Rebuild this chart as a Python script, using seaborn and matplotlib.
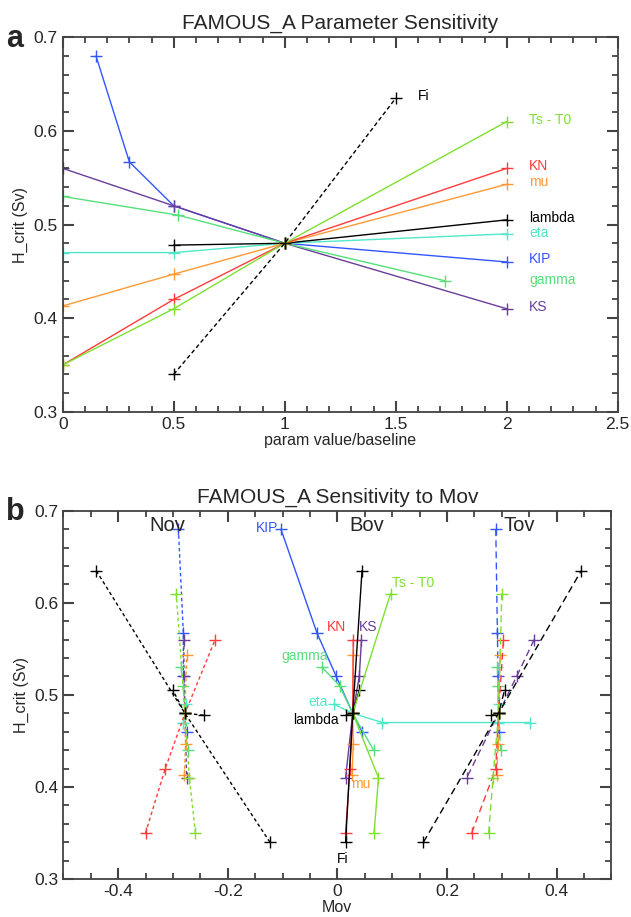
import numpy as np
import pandas as pd
import matplotlib
matplotlib.use('Agg')
import matplotlib.pyplot as plt
from matplotlib.ticker import MultipleLocator, FixedLocator
import seaborn as sns

# parameter names and line colours
params = ['KIP', 'KS', 'gamma', 'eta', 'lambda', 'mu', 'KN', 'Ts - T0', 'Fi']
colors = ['#3355ff', '#6a3d9a', '#55e07a', '#50e8c8', 'black', '#ff9933', '#ff3b3b', '#7fe030', 'black']

# param value / baseline
pval = {
    'KIP': [0.15, 0.3, 0.5, 1, 2],
    'KS': [0, 0.5, 1, 2],
    'gamma': [0, 0.52, 1, 1.72],
    'eta': [0, 0.5, 1, 2],
    'lambda': [0.5, 1, 2],
    'mu': [0, 0.5, 1, 2],
    'KN': [0, 0.5, 1, 2],
    'Ts - T0': [0, 0.5, 1, 2],
    'Fi': [0.5, 1, 1.5],
}

# H_crit (Sv)
hcrit = {
    'KIP': [0.68, 0.567, 0.52, 0.48, 0.46],
    'KS': [0.56, 0.52, 0.48, 0.41],
    'gamma': [0.53, 0.51, 0.48, 0.44],
    'eta': [0.47, 0.47, 0.48, 0.49],
    'lambda': [0.478, 0.48, 0.505],
    'mu': [0.413, 0.447, 0.48, 0.543],
    'KN': [0.35, 0.42, 0.48, 0.56],
    'Ts - T0': [0.35, 0.41, 0.48, 0.61],
    'Fi': [0.34, 0.48, 0.635],
}

# Mov components at each point
nov = {
    'KIP': [-0.290, -0.281, -0.281, -0.278, -0.275],
    'KS': [-0.280, -0.280, -0.278, -0.275],
    'gamma': [-0.285, -0.281, -0.278, -0.273],
    'eta': [-0.281, -0.281, -0.278, -0.277],
    'lambda': [-0.244, -0.278, -0.300],
    'mu': [-0.279, -0.277, -0.278, -0.275],
    'KN': [-0.350, -0.314, -0.278, -0.223],
    'Ts - T0': [-0.259, -0.270, -0.278, -0.294],
    'Fi': [-0.123, -0.278, -0.440],
}
bov = {
    'KIP': [-0.103, -0.037, -0.002, 0.028, 0.045],
    'KS': [0.044, 0.040, 0.028, 0.015],
    'gamma': [-0.028, 0.004, 0.028, 0.066],
    'eta': [0.352, 0.082, 0.028, -0.007],
    'lambda': [0.016, 0.028, 0.040],
    'mu': [0.027, 0.029, 0.028, 0.029],
    'KN': [0.015, 0.023, 0.028, 0.029],
    'Ts - T0': [0.067, 0.075, 0.028, 0.097],
    'Fi': [0.015, 0.028, 0.045],
}
tov = {
    'KIP': [0.289, 0.292, 0.293, 0.294, 0.294],
    'KS': [0.359, 0.327, 0.294, 0.236],
    'gamma': [0.292, 0.293, 0.294, 0.298],
    'eta': [0.293, 0.293, 0.294, 0.294],
    'lambda': [0.281, 0.294, 0.305],
    'mu': [0.291, 0.293, 0.294, 0.297],
    'KN': [0.245, 0.289, 0.294, 0.303],
    'Ts - T0': [0.276, 0.284, 0.294, 0.300],
    'Fi': [0.157, 0.294, 0.445],
}

# label positions
labels_a = {'Fi': (1.6, 0.637), 'Ts - T0': (2.1, 0.612), 'KN': (2.1, 0.562), 'mu': (2.1, 0.545),
            'lambda': (2.1, 0.507), 'eta': (2.1, 0.491), 'KIP': (2.1, 0.463), 'gamma': (2.1, 0.441),
            'KS': (2.1, 0.412)}
labels_b = {'KIP': (-0.108, 0.681, 'right'), 'Ts - T0': (0.10, 0.622, 'left'), 'KN': (-0.002, 0.574, 'center'),
            'KS': (0.057, 0.574, 'center'), 'gamma': (-0.059, 0.542, 'center'), 'eta': (-0.035, 0.492, 'center'),
            'lambda': (-0.04, 0.473, 'center'), 'mu': (0.042, 0.403, 'center'), 'Fi': (0.010, 0.322, 'center')}
mov_names = ['Nov', 'Bov', 'Tov']
mov_name_x = [-0.31, 0.053, 0.331]

sns.set_style('ticks')
plt.rcParams['font.family'] = ['Liberation Sans', 'DejaVu Sans']
plt.rcParams['axes.axisbelow'] = False

fig = plt.figure(figsize=(6.31, 9.17), dpi=100)
ax1 = fig.add_axes([0.0994, 0.551, 0.8796, 0.4083])
ax2 = fig.add_axes([0.1003, 0.0414, 0.8687, 0.4016])


def mk(c):
    return dict(marker='+', markersize=9, markeredgewidth=1.0, markeredgecolor=c)


# panel a
for p, c in zip(params, colors):
    ls = (0, (3, 2)) if p == 'Fi' else '-'
    sns.lineplot(x=pval[p], y=hcrit[p], ax=ax1, color=c, sort=False, estimator=None,
                 linewidth=1.0, linestyle=ls, **mk(c))
    lx, ly = labels_a[p]
    ax1.text(lx, ly, p, color=c, fontsize=10, va='center', ha='left')

ax1.set_xlim(0, 2.5)
ax1.set_ylim(0.3, 0.7)
ax1.xaxis.set_major_locator(FixedLocator([0, 0.5, 1, 1.5, 2, 2.5]))
ax1.set_xticklabels(['0', '0.5', '1', '1.5', '2', '2.5'])
ax1.xaxis.set_minor_locator(MultipleLocator(0.1))
ax1.set_xlabel('param value/baseline', fontsize=11.5, labelpad=1)
ax1.set_title('FAMOUS_A Parameter Sensitivity', fontsize=15, pad=6)

# panel b
dash = {'Nov': (0, (2.5, 2)), 'Bov': '-', 'Tov': (0, (5, 3))}
for name, comp in zip(mov_names, [nov, bov, tov]):
    for p, c in zip(params, colors):
        sns.lineplot(x=comp[p], y=hcrit[p], ax=ax2, color=c, sort=False, estimator=None,
                     linewidth=1.0, linestyle=dash[name], **mk(c))
for p, c in zip(params, colors):
    lx, ly, ha = labels_b[p]
    ax2.text(lx, ly, p, color=c, fontsize=10, va='center', ha=ha)
for name, nx in zip(mov_names, mov_name_x):
    ax2.text(nx, 0.684, name, fontsize=14.5, ha='center', va='center')

ax2.set_xlim(-0.5, 0.5)
ax2.set_ylim(0.3, 0.7)
ax2.xaxis.set_major_locator(FixedLocator([-0.4, -0.2, 0, 0.2, 0.4]))
ax2.set_xticklabels(['-0.4', '-0.2', '0', '0.2', '0.4'])
ax2.xaxis.set_minor_locator(MultipleLocator(0.05))
ax2.set_xlabel('Mov', fontsize=11.5, labelpad=1)
ax2.set_title('FAMOUS_A Sensitivity to Mov', fontsize=15, pad=6)

for ax, tag, ty in [(ax1, 'a', 0.958), (ax2, 'b', 0.442)]:
    ax.yaxis.set_major_locator(FixedLocator([0.3, 0.4, 0.5, 0.6, 0.7]))
    ax.set_yticklabels(['0.3', '0.4', '0.5', '0.6', '0.7'])
    ax.yaxis.set_minor_locator(MultipleLocator(0.02))
    ax.set_ylabel('H_crit (Sv)', fontsize=11.5, labelpad=4)
    ax.tick_params(axis='both', which='major', direction='in', top=True, right=True,
                   bottom=True, left=True, labelsize=12.5, length=8, width=1.5, color='#444444')
    ax.tick_params(axis='both', which='minor', direction='in', top=True, right=True,
                   bottom=True, left=True, length=4, width=1.3, color='#444444')
    for s in ax.spines.values():
        s.set_linewidth(1.2)
        s.set_color('#333333')
    fig.text(0.01, ty, tag, fontsize=22, fontweight='bold', ha='left', va='center')

fig.savefig('out.png', dpi=100)
